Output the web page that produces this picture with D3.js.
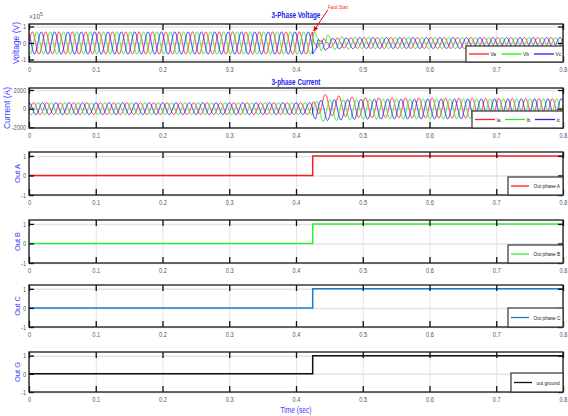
<!DOCTYPE html>
<html><head><meta charset="utf-8">
<script src="https://cdn.jsdelivr.net/npm/d3@7"></script>
<style>
body{margin:0;background:#fff;overflow:hidden}
text{font-family:"Liberation Sans",Arial,sans-serif}
</style>
</head><body>
<svg id="chart" width="568" height="416" style="display:block"></svg>
<script>
// ---- data ----
const timeTicks = [0, 0.1, 0.2, 0.3, 0.4, 0.5, 0.6, 0.7, 0.8];
const timeLabels = ["0", "0.1", "0.2", "0.3", "0.4", "0.5", "0.6", "0.7", "0.8"];
const timeDomain = [0, 0.8];
const faultTime = 0.425;
const lineFreq = 50; // Hz

// voltage envelope (V) at knot times
const vKnots   = [0, 0.425, 0.43, 0.44, 0.46, 0.5, 0.8];
const vaAmp    = [0.67e5, 0.67e5, 0.15e5, 0.2e5, 0.28e5, 0.33e5, 0.33e5];
const vbAmp    = [0.67e5, 0.67e5, 0.55e5, 0.45e5, 0.38e5, 0.34e5, 0.33e5];
const vcAmp    = [0.67e5, 0.67e5, 0.35e5, 0.35e5, 0.33e5, 0.33e5, 0.33e5];
const vbOffset = [0, 0, 0.1e5, 0.05e5, 0, 0, 0];
const vcOffset = [0, 0, -0.2e5, -0.1e5, -0.03e5, 0, 0];
const vHarm    = [0, 0, 0.12e5, 0.08e5, 0.03e5, 0, 0];
const voltTicks = [-1e5, 0, 1e5];
const voltTickLabels = ["-1", "0", "1"];

// current envelope (A) at knot times
const iKnots   = [0, 0.425, 0.43, 0.45, 0.5, 0.8];
const iaAmp    = [640, 640, 1100, 1100, 1060, 1060];
const ibAmp    = [640, 640, 1100, 1100, 1060, 1060];
const icAmp    = [640, 640, 1100, 1100, 1060, 1060];
const iaOffset = [0, 0, 600, 350, 100, 0];
const ibOffset = [0, 0, -350, -200, -50, 0];
const icOffset = [0, 0, -250, -150, -50, 0];
const currTicks = [-2000, 0, 2000];
const currTickLabels = ["-2000", "0", "2000"];

// trip outputs (step at the fault instant)
const stepTimes = [0, faultTime, faultTime, 0.8];
const outA = [0, 0, 1, 1];
const outB = [0, 0, 1, 1];
const outC = [0, 0, 1, 1];
const outG = [0, 0, 1, 1];
const outTicks = [-1, 0, 1];
const outTickLabels = ["-1", "0", "1"];

// ---- layout ----
const W = 568, H = 416;
const xLeft = 29, xRight = 563;
const svg = d3.select("#chart");
svg.append("rect").attr("width", W).attr("height", H).attr("fill", "#fff");
const x = d3.scaleLinear().domain(timeDomain).range([xLeft, xRight]);

// squeeze text horizontally to mimic a condensed face
function narrow(sel, k) {
  sel.each(function () {
    const len = this.getComputedTextLength();
    if (len > 0) d3.select(this).attr("textLength", len * k).attr("lengthAdjust", "spacingAndGlyphs");
  });
}

const panels = [
  {top: 24,  bottom: 62,  domain: [-1.15e5, 1.15e5], ticks: voltTicks, labels: voltTickLabels, ylabel: "Voltage (V)", ylx: 16.5, yfs: 8.5, title: "3-Phase Voltage", titleY: 18},
  {top: 88,  bottom: 128, domain: [-2075, 2215], ticks: currTicks, labels: currTickLabels, ylabel: "Current (A)", ylx: 7, yfs: 8.5, title: "3-phase Current", titleY: 85},
  {top: 152, bottom: 195, domain: [-1, 1.2], ticks: outTicks, labels: outTickLabels, ylabel: "Out A", ylx: 17.5, yfs: 7.5},
  {top: 220, bottom: 263, domain: [-1, 1.2], ticks: outTicks, labels: outTickLabels, ylabel: "Out B", ylx: 17.5, yfs: 7.5},
  {top: 285, bottom: 327, domain: [-1, 1.2], ticks: outTicks, labels: outTickLabels, ylabel: "Out C", ylx: 17.5, yfs: 7.5},
  {top: 352, bottom: 392, domain: [-1, 1.2], ticks: outTicks, labels: outTickLabels, ylabel: "Out G", ylx: 17.5, yfs: 7.5}
];

const defs = svg.append("defs");
defs.append("marker").attr("id", "arrowRed").attr("viewBox", "0 0 10 10")
  .attr("refX", 9).attr("refY", 5).attr("markerWidth", 5).attr("markerHeight", 5)
  .attr("orient", "auto")
  .append("path").attr("d", "M0,0 L10,5 L0,10 z").attr("fill", "#ff0000");

const tickFont = 7;

panels.forEach((p, i) => {
  const y = d3.scaleLinear().domain(p.domain).range([p.bottom, p.top]);
  p.y = y;
  const g = svg.append("g");
  const h = p.bottom - p.top;

  // grid
  g.append("g").attr("transform", `translate(0,${p.bottom})`)
    .call(d3.axisBottom(x).tickValues(timeTicks).tickSize(-h).tickFormat(""))
    .call(s => s.select(".domain").remove())
    .call(s => s.selectAll("line").attr("stroke", "#e3e3e3").attr("stroke-width", 1));
  g.append("g").attr("transform", `translate(${xLeft},0)`)
    .call(d3.axisLeft(y).tickValues(p.ticks).tickSize(-(xRight - xLeft)).tickFormat(""))
    .call(s => s.select(".domain").remove())
    .call(s => s.selectAll("line").attr("stroke", "#e3e3e3").attr("stroke-width", 1.5));

  defs.append("clipPath").attr("id", "clip" + i)
    .append("rect").attr("x", xLeft).attr("y", p.top).attr("width", xRight - xLeft).attr("height", h);
  p.plot = svg.append("g").attr("clip-path", `url(#clip${i})`);
  p.frame = svg.append("g");
});

// ---- waveforms ----
const sampleT = d3.range(0, 0.8 + 1e-9, 0.0001);
const w = 2 * Math.PI * lineFreq;
const phaseShift = [0, -2 * Math.PI / 3, 2 * Math.PI / 3];

function env(knots, vals) { return d3.scaleLinear().domain(knots).range(vals).clamp(true); }

const vAmps = [env(vKnots, vaAmp), env(vKnots, vbAmp), env(vKnots, vcAmp)];
const vOffs = [env(vKnots, vKnots.map(() => 0)), env(vKnots, vbOffset), env(vKnots, vcOffset)];
const vH = env(vKnots, vHarm);
const iAmps = [env(iKnots, iaAmp), env(iKnots, ibAmp), env(iKnots, icAmp)];
const iOffs = [env(iKnots, iaOffset), env(iKnots, ibOffset), env(iKnots, icOffset)];

const phaseColors = ["#ff2020", "#22ee22", "#1f1fff"];
const faultShift = 0.9;

function drawPhases(p, amps, offs, harm, lag) {
  const line = d3.line().x(d => x(d[0])).y(d => p.y(d[1]));
  [0, 1, 2].forEach(k => {
    const pts = sampleT.map(t => {
      let v = offs[k](t) + amps[k](t) * Math.sin(w * t + phaseShift[k] + lag + (t > faultTime ? faultShift : 0));
      if (harm) v += harm(t) * Math.sin(3 * w * t + k);
      return [t, v];
    });
    p.plot.append("path").datum(pts).attr("d", line)
      .attr("fill", "none").attr("stroke", phaseColors[k]).attr("stroke-width", 1);
  });
}
drawPhases(panels[0], vAmps, vOffs, vH, 0);
drawPhases(panels[1], iAmps, iOffs, null, -0.6);

// step outputs
const outSeries = [outA, outB, outC, outG];
const outColors = ["#ff1a1a", "#33ee33", "#1a7ccc", "#111111"];
outSeries.forEach((vals, k) => {
  const p = panels[k + 2];
  const line = d3.line().x(d => x(d[0])).y(d => p.y(d[1]));
  p.plot.append("path").datum(stepTimes.map((t, j) => [t, vals[j]])).attr("d", line)
    .attr("fill", "none").attr("stroke", outColors[k]).attr("stroke-width", 1.5);
});

// ---- frames, ticks, labels ----
panels.forEach((p, i) => {
  const g = p.frame;
  const y = p.y;
  g.append("g").attr("transform", `translate(0,${p.bottom})`)
    .call(d3.axisBottom(x).tickValues(timeTicks).tickFormat((d, j) => timeLabels[j]).tickSize(0).tickPadding(5))
    .call(s => s.select(".domain").remove())
    .call(s => s.selectAll("text").attr("fill", "#555").attr("font-size", tickFont).attr("font-family", null))
    .call(s => narrow(s.selectAll("text"), 0.8));
  g.append("g").attr("transform", `translate(0,${p.bottom})`)
    .call(d3.axisBottom(x).tickValues(timeTicks).tickSize(-6).tickFormat(""))
    .call(s => s.select(".domain").remove())
    .call(s => s.selectAll("line").attr("stroke", "#111").attr("stroke-width", 1.3));
  g.append("g").attr("transform", `translate(0,${p.top})`)
    .call(d3.axisTop(x).tickValues(timeTicks).tickSize(-6).tickFormat(""))
    .call(s => s.select(".domain").remove())
    .call(s => s.selectAll("line").attr("stroke", "#111").attr("stroke-width", 1.3));
  g.append("g").attr("transform", `translate(${xLeft},0)`)
    .call(d3.axisLeft(y).tickValues(p.ticks).tickFormat((d, j) => p.labels[j]).tickSize(-5).tickPadding(3))
    .call(s => s.select(".domain").remove())
    .call(s => s.selectAll("line").attr("stroke", "#111").attr("stroke-width", 1.3))
    .call(s => s.selectAll("text").attr("fill", "#555").attr("font-size", tickFont).attr("font-family", null))
    .call(s => narrow(s.selectAll("text"), 0.8));
  g.append("g").attr("transform", `translate(${xRight},0)`)
    .call(d3.axisRight(y).tickValues(p.ticks).tickSize(-5).tickFormat(""))
    .call(s => s.select(".domain").remove())
    .call(s => s.selectAll("line").attr("stroke", "#111").attr("stroke-width", 1.3));
  g.append("rect").attr("x", xLeft).attr("y", p.top).attr("width", xRight - xLeft).attr("height", p.bottom - p.top)
    .attr("fill", "none").attr("stroke", "#1a1a1a").attr("stroke-width", 1.3);
  const cy = (p.top + p.bottom) / 2;
  g.append("text").attr("transform", `translate(${p.ylx},${cy}) rotate(-90)`)
    .attr("text-anchor", "middle").attr("dy", "0.35em")
    .attr("fill", "#3b3bff").attr("font-size", p.yfs).text(p.ylabel);
  if (p.title) {
    g.append("text").attr("x", (xLeft + xRight) / 2).attr("y", p.titleY)
      .attr("text-anchor", "middle").attr("fill", "#2222ee").attr("font-weight", "bold")
      .attr("font-size", 8.5).text(p.title)
      .call(s => narrow(s, 0.75));
  }
});

// exponent label
const ex = svg.append("text").attr("x", 29).attr("y", 19).attr("fill", "#555").attr("font-size", 6.5);
ex.append("tspan").text("\u00d710");
ex.append("tspan").attr("dy", -3).attr("font-size", 5).text("5");

// fault annotation
svg.append("text").attr("x", 328).attr("y", 9).attr("fill", "#ff2020").attr("font-size", 5.5).text("Fault Start")
  .call(s => narrow(s, 0.8));
svg.append("line").attr("x1", x(faultTime) + 15).attr("y1", 10).attr("x2", x(faultTime) + 1).attr("y2", 31)
  .attr("stroke", "#ff0000").attr("stroke-width", 1).attr("marker-end", "url(#arrowRed)");

// x axis title
svg.append("text").attr("x", (xLeft + xRight) / 2).attr("y", 413).attr("text-anchor", "middle")
  .attr("fill", "#3b3bff").attr("font-size", 8.5).text("Time (sec)")
  .call(s => narrow(s, 0.78));

// ---- legends ----
function legend(p, items, boxX, boxH, lineLen, gap) {
  const g = svg.append("g");
  const top = p.bottom - boxH;
  g.append("rect").attr("x", boxX).attr("y", top).attr("width", xRight - boxX).attr("height", boxH)
    .attr("fill", "#fff").attr("stroke", "#333").attr("stroke-width", 1.2);
  let cx = boxX + 3;
  const cyl = top + boxH / 2;
  items.forEach(it => {
    g.append("line").attr("x1", cx).attr("x2", cx + lineLen).attr("y1", cyl).attr("y2", cyl)
      .attr("stroke", it.color).attr("stroke-width", 1.3);
    g.append("text").attr("x", cx + lineLen + 1.5 + (it.pad || 0)).attr("y", cyl).attr("dy", "0.35em")
      .attr("fill", "#222").attr("font-size", 6.2).text(it.label)
      .call(s => narrow(s, 0.78));
    cx += gap;
  });
}
legend(panels[0], [{label: "Va", color: phaseColors[0]}, {label: "Vb", color: phaseColors[1]}, {label: "Vc", color: phaseColors[2]}], 466, 16, 20, 32.5);
legend(panels[1], [{label: "Ia", color: phaseColors[0]}, {label: "Ib", color: phaseColors[1]}, {label: "Ic", color: phaseColors[2]}], 472, 17, 20, 30);
legend(panels[2], [{label: "Out phase A", color: outColors[0], pad: 3}], 508, 18, 18, 0);
legend(panels[3], [{label: "Out phase B", color: outColors[1], pad: 3}], 508, 18, 18, 0);
legend(panels[4], [{label: "Out phase C", color: outColors[2], pad: 3}], 508, 19, 18, 0);
legend(panels[5], [{label: "out ground", color: outColors[3], pad: 3}], 511, 19, 18, 0);
</script>
</body></html>
